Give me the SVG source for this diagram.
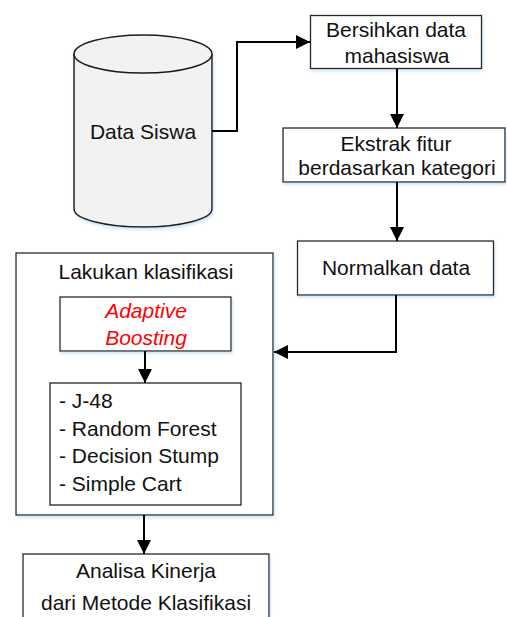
<svg xmlns="http://www.w3.org/2000/svg" width="507" height="617" viewBox="0 0 507 617">
  <style>
    .box { fill: #ffffff; stroke: #262626; stroke-width: 1.3; }
    .cyl { fill: #f2f2f2; stroke: #1a1a1a; stroke-width: 1.5; }
    .t { font-family: "Liberation Sans", Arial, sans-serif; font-size: 21px; fill: #111111; }
    .c { text-anchor: middle; }
    .red { fill: #ff0000; font-style: italic; }
    .conn { fill: none; stroke: #000000; stroke-width: 2; }
  </style>
  <defs>
    <marker id="arrow" markerUnits="userSpaceOnUse" markerWidth="14" markerHeight="14" viewBox="0 0 14 14" refX="14" refY="7" orient="auto">
      <path d="M0,0 L14,7 L0,14 Z" fill="#000000"/>
    </marker>
    <filter id="sh" x="-10%" y="-10%" width="120%" height="130%">
      <feDropShadow dx="1" dy="2" stdDeviation="1.5" flood-color="#9dc3e6" flood-opacity="0.5"/>
    </filter>
  </defs>

  <g id="data-siswa">
    <path class="cyl" filter="url(#sh)" d="M74,54 A69,19 0 0 1 212,54 L212,209 A69,18 0 0 1 74,209 Z"/>
    <path class="cyl" d="M74,54 A69,19 0 0 0 212,54" fill="none"/>
    <text class="t c" x="143" y="139">Data Siswa</text>
  </g>

  <g id="bersihkan">
    <rect class="box" filter="url(#sh)" x="310.5" y="15.5" width="171" height="53"/>
    <text class="t c" x="396" y="37">Bersihkan data</text>
    <text class="t c" x="397" y="63">mahasiswa</text>
  </g>

  <g id="ekstrak">
    <rect class="box" filter="url(#sh)" x="283" y="128" width="222" height="54"/>
    <text class="t c" x="396" y="151">Ekstrak fitur</text>
    <text class="t c" x="397" y="175">berdasarkan kategori</text>
  </g>

  <g id="normalkan">
    <rect class="box" filter="url(#sh)" x="297.5" y="241" width="196" height="54"/>
    <text class="t c" x="396" y="275">Normalkan data</text>
  </g>

  <g id="klasifikasi">
    <rect class="box" filter="url(#sh)" x="16" y="253" width="257" height="262"/>
    <text class="t c" x="146" y="279">Lakukan klasifikasi</text>
  </g>

  <g id="adaboost">
    <rect class="box" filter="url(#sh)" x="60" y="297" width="171" height="54"/>
    <text class="t c red" x="146" y="318">Adaptive</text>
    <text class="t c red" x="146" y="345">Boosting</text>
  </g>

  <g id="metode">
    <rect class="box" x="50" y="383" width="191" height="122"/>
    <text class="t" x="59" y="408">- J-48</text>
    <text class="t" x="59" y="436">- Random Forest</text>
    <text class="t" x="59" y="463">- Decision Stump</text>
    <text class="t" x="59" y="491">- Simple Cart</text>
  </g>

  <g id="analisa">
    <rect class="box" filter="url(#sh)" x="23" y="554" width="246" height="70"/>
    <text class="t c" x="146" y="578">Analisa Kinerja</text>
    <text class="t c" x="146" y="610">dari Metode Klasifikasi</text>
  </g>

  <g id="connectors">
    <path class="conn" marker-end="url(#arrow)" d="M212,131 H237 V42 H310"/>
    <path class="conn" marker-end="url(#arrow)" d="M397,69 V128"/>
    <path class="conn" marker-end="url(#arrow)" d="M397,182 V241"/>
    <path class="conn" marker-end="url(#arrow)" d="M396,295 V352 H274"/>
    <path class="conn" marker-end="url(#arrow)" d="M145,351 V383"/>
    <path class="conn" marker-end="url(#arrow)" d="M144,515 V554"/>
  </g>
</svg>
